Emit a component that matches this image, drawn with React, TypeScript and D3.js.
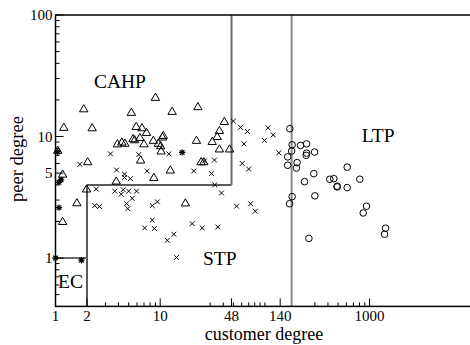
import React from "react";
import * as d3 from "d3";

const W = 470;
const H = 345;

// CAHP points (triangles): [customer degree, peer degree]
const cahpPoints: [number, number][] = [
  [1.2, 11.9], [2.24, 11.8], [5.9, 12.1], [6.7, 11.8], [7.4, 10.8],
  [3.9, 8.7], [4.3, 9.0], [4.6, 8.8], [5.5, 9.6], [5.7, 9.4], [6.4, 9.8],
  [7.0, 8.7], [8.6, 9.3], [9.6, 8.8], [2.03, 6.2], [6.5, 6.4], [1.17, 4.9],
  [8.7, 4.6], [3.8, 4.3], [1.98, 3.7], [1.6, 2.85], [1.17, 2.0], [9.0, 21],
  [1.86, 16.9], [5.3, 15.8], [13, 16.1], [22.9, 17.6], [41, 13.3], [36.8, 11.2],
  [35, 10], [31.4, 9.1], [10.7, 10.2], [10.5, 9.9], [10.1, 8.4], [10.2, 7.6],
  [22.2, 9.3], [36.8, 7.9], [46, 7.9], [24.6, 6.2], [26.1, 6.2], [12.5, 5.3],
  [17.4, 2.84], [1.05, 7.7],
];

// STP points (crosses)
const stpPoints: [number, number][] = [
  [3.35, 7.2], [1.71, 5.9], [6.25, 7.1], [3.83, 5.3], [4.56, 4.9], [4.56, 4.6],
  [5.2, 4.5], [7.5, 5.2], [2.45, 3.7], [3.68, 3.55], [4.24, 3.35], [4.43, 3.65],
  [5.0, 3.55], [5.94, 3.55], [5.4, 3.1], [4.77, 2.8], [4.9, 2.55], [2.37, 2.7],
  [2.63, 2.65], [8.4, 2.7], [9.4, 2.9], [8.4, 2.05], [7.1, 1.77], [8.8, 1.75],
  [50, 13.4], [58.5, 11.9], [68, 11.0], [107, 11.8], [120, 10.3], [99, 9.3],
  [12.1, 7.2], [63, 8.7], [136, 7.35], [26.5, 6.3], [33, 6.4], [20.9, 5.2],
  [30.9, 4.95], [60.7, 6.0], [70, 5.4], [33.2, 4.0], [38.5, 3.43], [53.6, 2.67],
  [73, 2.8], [81, 2.43], [20.2, 1.92], [25.2, 1.77], [35.5, 1.8], [11.7, 1.4],
  [13.5, 1.57], [14.3, 1.01],
];

// LTP points (circles)
const ltpPoints: [number, number][] = [
  [173, 11.6], [182, 8.55], [219, 8.45], [250, 8.7], [180, 7.6], [250, 7.3],
  [248, 7.0], [298, 7.45], [165, 6.8], [203, 6.1], [165, 5.8], [200, 5.5],
  [293, 4.95], [611, 5.6], [239, 4.25], [417, 4.45], [455, 4.5], [806, 4.45],
  [490, 3.9], [490, 3.85], [611, 3.8], [182, 3.2], [172, 2.8], [300, 3.25],
  [934, 2.67], [869, 2.35], [1420, 1.76], [1390, 1.57], [263, 1.45],
];

// EC / other points (asterisks)
const starPoints: [number, number][] = [
  [1.05, 7.5], [1.13, 4.4], [1.08, 4.2], [1.08, 2.6], [1.0, 1.0], [1.77, 0.96],
  [16.2, 7.4],
];

const xMajorTicks = [1, 2, 10, 48, 140, 1000];
const xMinorTicks = [3, 4, 5, 6, 7, 8, 9, 30, 40, 50, 60, 70, 80, 90, 100, 300, 400, 500, 600, 700, 800, 900];
const yMajorTicks = [1, 5, 10, 100];
const yMinorTicks = [0.5, 0.6, 0.7, 0.8, 0.9, 2, 3, 4, 6, 7, 8, 9, 20, 30, 40, 50, 60, 70, 80, 90];

// region boundaries
const ecX = 2;
const ecY = 1;
const stpY = 4;
const cahpX = 48;
const ltpX = 180;

const regionLabels: { text: string; x: number; y: number }[] = [
  { text: "CAHP", x: 2.33, y: 25 },
  { text: "LTP", x: 840, y: 9.0 },
  { text: "STP", x: 25.6, y: 0.876 },
  { text: "EC", x: 1.056, y: 0.566 },
];

const FONT = "'Liberation Serif', 'Times New Roman', Times, serif";

export default function App() {
  const x = d3.scaleLog().domain([1, 10000]).range([55.5, 55.5 + 4 * 104.7]);
  const y = d3.scaleLog().domain([0.4, 100]).range([306.4, 15]);
  const left = x(1);
  const right = x(10000);
  const bottom = y(0.4);
  const top = y(100);

  const tri = (cx: number, cy: number) =>
    `M${cx},${cy - 4.2}L${cx + 4.2},${cy + 3}L${cx - 4.2},${cy + 3}Z`;
  const cross = (cx: number, cy: number) => {
    const s = 2.4;
    return `M${cx - s},${cy - s}L${cx + s},${cy + s}M${cx - s},${cy + s}L${cx + s},${cy - s}`;
  };
  const star = (cx: number, cy: number) => {
    const s = 3.2;
    const d = 2.3;
    return `M${cx - s},${cy}L${cx + s},${cy}M${cx},${cy - s}L${cx},${cy + s}M${cx - d},${cy - d}L${cx + d},${cy + d}M${cx - d},${cy + d}L${cx + d},${cy - d}`;
  };

  return (
    <svg
      width={W}
      height={H}
      style={{ position: "absolute", left: 0, top: 0, display: "block", background: "#fff" }}
    >
      <rect x={0} y={0} width={W} height={H} fill="#fff" />
      {/* region lines */}
      <g fill="none" strokeWidth={2}>
        <line x1={x(ecX)} x2={x(ecX)} y1={bottom} y2={y(stpY)} stroke="#5a5a5a" />
        <line x1={x(ecX)} x2={x(cahpX)} y1={y(stpY)} y2={y(stpY)} stroke="#5a5a5a" />
        <line x1={x(cahpX)} x2={x(cahpX)} y1={y(stpY)} y2={top} stroke="#6a6a6a" />
        <line x1={left} x2={x(ecX)} y1={y(ecY)} y2={y(ecY)} stroke="#6a6a6a" />
        <line x1={x(ltpX)} x2={x(ltpX)} y1={bottom} y2={top} stroke="#888" />
      </g>

      {/* points */}
      <g fill="none" stroke="#000" strokeWidth={1}>
        {cahpPoints.map((p, i) => (
          <path key={"t" + i} d={tri(x(p[0]), y(p[1]))} />
        ))}
        {stpPoints.map((p, i) => (
          <path key={"x" + i} d={cross(x(p[0]), y(p[1]))} />
        ))}
        {ltpPoints.map((p, i) => (
          <circle key={"c" + i} cx={x(p[0])} cy={y(p[1])} r={3.3} />
        ))}
        {starPoints.map((p, i) => (
          <path key={"s" + i} d={star(x(p[0]), y(p[1]))} strokeWidth={1.2} />
        ))}
      </g>

      {/* frame */}
      <rect x={left} y={top} width={right - left} height={bottom - top} fill="none" stroke="#000" strokeWidth={1.5} />

      {/* x ticks */}
      <g stroke="#000" strokeWidth={1}>
        {xMajorTicks.map((t) => (
          <line key={"xM" + t} x1={x(t)} x2={x(t)} y1={bottom} y2={bottom - 8} />
        ))}
        {xMinorTicks.map((t) => (
          <line key={"xm" + t} x1={x(t)} x2={x(t)} y1={bottom} y2={bottom - 4} />
        ))}
        {yMajorTicks.map((t) => (
          <line key={"yM" + t} x1={left} x2={left + 8} y1={y(t)} y2={y(t)} />
        ))}
        {yMinorTicks.map((t) => (
          <line key={"ym" + t} x1={left} x2={left + 4} y1={y(t)} y2={y(t)} />
        ))}
      </g>

      {/* tick labels */}
      <g fontFamily={FONT} fontSize={15} fill="#000">
        {xMajorTicks.map((t) => (
          <text key={"xl" + t} x={x(t)} y={320.5} textAnchor="middle">
            {t}
          </text>
        ))}
        {yMajorTicks.map((t) => (
          <text key={"yl" + t} x={52.5} y={y(t) + 5} textAnchor="end">
            {t}
          </text>
        ))}
      </g>

      {/* axis titles */}
      <text x={264} y={340.2} textAnchor="middle" fontFamily={FONT} fontSize={18}>
        customer degree
      </text>
      <text
        transform={`translate(23,159) rotate(-90)`}
        textAnchor="middle"
        fontFamily={FONT}
        fontSize={18.5}
      >
        peer degree
      </text>

      {/* region labels */}
      <g fontFamily={FONT} fontSize={19.5}>
        {regionLabels.map((r) => (
          <text key={r.text} x={x(r.x)} y={y(r.y)}>
            {r.text}
          </text>
        ))}
      </g>
    </svg>
  );
}
